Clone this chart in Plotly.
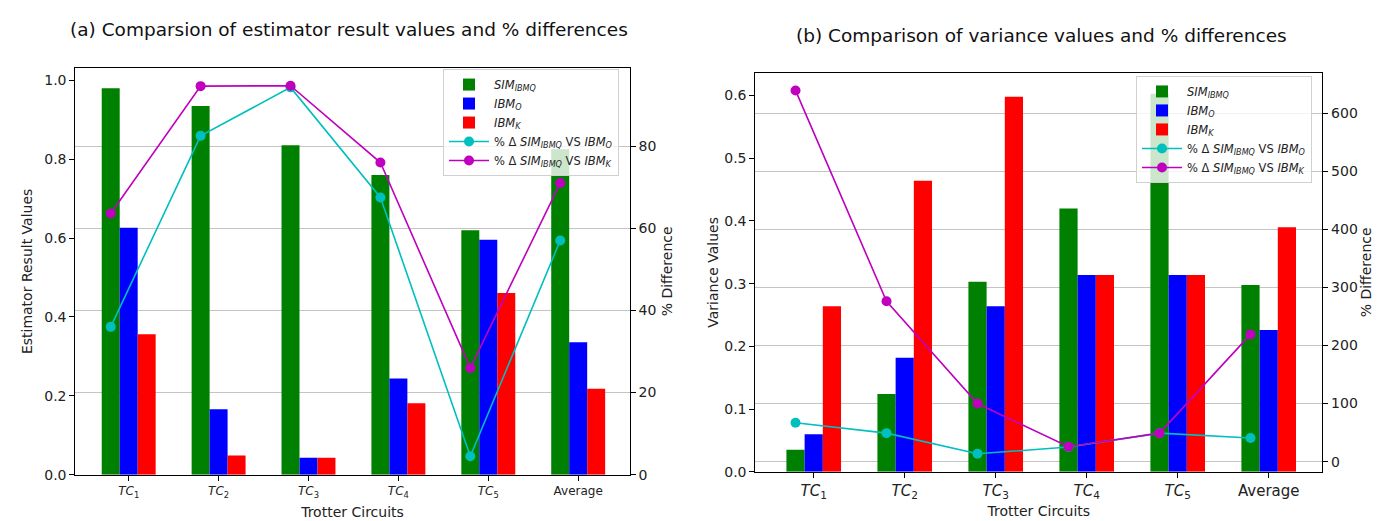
import plotly.graph_objects as go

# ---------------- data ----------------
idx = [0, 1, 2, 3, 4, 5]
ticks_a = ["<i>TC</i><sub>1</sub>", "<i>TC</i><sub>2</sub>", "<i>TC</i><sub>3</sub>",
           "<i>TC</i><sub>4</sub>", "<i>TC</i><sub>5</sub>", "Average"]
ticks_b = ticks_a

# (a) estimator result values
sim_a = [0.98, 0.935, 0.835, 0.76, 0.62, 0.825]
ibmo_a = [0.626, 0.166, 0.043, 0.244, 0.596, 0.336]
ibmk_a = [0.356, 0.049, 0.043, 0.181, 0.461, 0.218]
pct_o_a = [36.0, 82.5, 94.3, 67.5, 4.5, 57.0]
pct_k_a = [63.6, 94.6, 94.7, 76.0, 26.0, 71.0]

# (b) variance values
sim_b = [0.035, 0.124, 0.303, 0.42, 0.603, 0.298]
ibmo_b = [0.06, 0.182, 0.264, 0.314, 0.314, 0.226]
ibmk_b = [0.264, 0.464, 0.598, 0.314, 0.314, 0.39]
pct_o_b = [67.0, 49.0, 13.5, 25.0, 49.0, 40.7]
pct_k_b = [639.0, 276.0, 100.0, 25.5, 49.0, 219.0]

names = ["<i>SIM<sub>IBMQ</sub></i>", "<i>IBM<sub>O</sub></i>", "<i>IBM<sub>K</sub></i>",
         "% Δ <i>SIM<sub>IBMQ</sub></i> VS <i>IBM<sub>O</sub></i>",
         "% Δ <i>SIM<sub>IBMQ</sub></i> VS <i>IBM<sub>K</sub></i>"]
bar_colors = ["#008000", "#0000ff", "#ff0000"]
line_colors = ["#00bfbf", "#bf00bf"]

line_x = [i - 0.2 for i in idx]

fig = go.Figure()

# ---- panel (a)
for vals, nm, col in zip([sim_a, ibmo_a, ibmk_a], names[:3], bar_colors):
    fig.add_trace(go.Bar(x=idx, y=vals, name=nm, marker=dict(color=col, line=dict(width=0)),
                         xaxis="x", yaxis="y", legend="legend"))
for vals, nm, col in zip([pct_o_a, pct_k_a], names[3:], line_colors):
    fig.add_trace(go.Scatter(x=line_x, y=vals, name=nm, mode="lines+markers",
                             line=dict(color=col, width=1.6), marker=dict(color=col, size=10),
                             xaxis="x", yaxis="y2", legend="legend"))

# ---- panel (b)
for vals, nm, col in zip([sim_b, ibmo_b, ibmk_b], names[:3], bar_colors):
    fig.add_trace(go.Bar(x=idx, y=vals, name=nm, marker=dict(color=col, line=dict(width=0)),
                         xaxis="x2", yaxis="y3", legend="legend2"))
for vals, nm, col in zip([pct_o_b, pct_k_b], names[3:], line_colors):
    fig.add_trace(go.Scatter(x=line_x, y=vals, name=nm, mode="lines+markers",
                             line=dict(color=col, width=1.6), marker=dict(color=col, size=10),
                             xaxis="x2", yaxis="y4", legend="legend2"))

W, H = 1386, 521
FONT = "DejaVu Sans"

def px_x(p):
    return p / W

def px_y(p):
    return (H - p) / H

axis_common = dict(showline=True, linecolor="black", linewidth=1, ticks="outside",
                   ticklen=5, tickcolor="black", tickwidth=1, zeroline=False)

fig.update_layout(
    width=W, height=H,
    margin=dict(l=0, r=0, t=0, b=0),
    paper_bgcolor="white", plot_bgcolor="white",
    font=dict(family=FONT, color="#222222", size=14),
    barmode="group", bargap=0.4, bargroupgap=0,
    # panel (a)
    xaxis=dict(domain=[px_x(67.3), px_x(621.7)], anchor="y", range=[-0.594, 5.573],
               tickvals=idx, ticktext=ticks_a, tickfont=dict(size=12), mirror=True,
               showgrid=False,
               title=dict(text="Trotter Circuits", font=dict(size=14), standoff=8), **axis_common),
    yaxis=dict(domain=[px_y(474), px_y(61)], anchor="x", range=[0, 1.031], dtick=0.2,
               tickformat=".1f", showgrid=False, tickfont=dict(size=14),
               title=dict(text="Estimator Result Values", font=dict(size=14), standoff=8), **axis_common),
    yaxis2=dict(overlaying="y", side="right", anchor="x", range=[0, 99.0], dtick=20,
                showgrid=True, gridcolor="#c4c4c4", gridwidth=1, tickfont=dict(size=14),
                title=dict(text="% Difference", font=dict(size=14), standoff=6), **axis_common),
    # panel (b)
    xaxis2=dict(domain=[px_x(747.3), px_x(1314.3)], anchor="y3", range=[-0.642, 5.589],
                tickvals=idx, ticktext=ticks_b, tickfont=dict(size=15), mirror=True,
                showgrid=False,
                title=dict(text="Trotter Circuits", font=dict(size=14), standoff=6), **axis_common),
    yaxis3=dict(domain=[px_y(471), px_y(66)], anchor="x2", range=[0, 0.636], dtick=0.1,
                tickformat=".1f", showgrid=False, tickfont=dict(size=14),
                title=dict(text="Variance Values", font=dict(size=14), standoff=2), **axis_common),
    yaxis4=dict(overlaying="y3", side="right", anchor="x2", range=[-17.5, 669], dtick=100,
                showgrid=True, gridcolor="#c4c4c4", gridwidth=1, tickfont=dict(size=14),
                title=dict(text="% Difference", font=dict(size=14), standoff=0), **axis_common),
    legend=dict(x=px_x(611), y=px_y(62), xanchor="right", yanchor="top",
                bgcolor="rgba(255,255,255,0.8)", bordercolor="#d0d0d0", borderwidth=1,
                font=dict(size=11.5, family=FONT), traceorder="normal", itemwidth=40),
    legend2=dict(x=px_x(1304), y=px_y(69), xanchor="right", yanchor="top",
                 bgcolor="rgba(255,255,255,0.8)", bordercolor="#d0d0d0", borderwidth=1,
                 font=dict(size=11.5, family=FONT), traceorder="normal", itemwidth=40),
    annotations=[
        dict(text="(a) Comparsion of estimator result values and % differences",
             x=px_x(341), y=px_y(22), xref="paper", yref="paper", showarrow=False,
             xanchor="center", yanchor="middle", font=dict(size=18.5, family=FONT, color="#111111")),
        dict(text="(b) Comparison of variance values and % differences",
             x=px_x(1033), y=px_y(28), xref="paper", yref="paper", showarrow=False,
             xanchor="center", yanchor="middle", font=dict(size=18.5, family=FONT, color="#111111")),
    ],
)

fig.write_html("out.html")
